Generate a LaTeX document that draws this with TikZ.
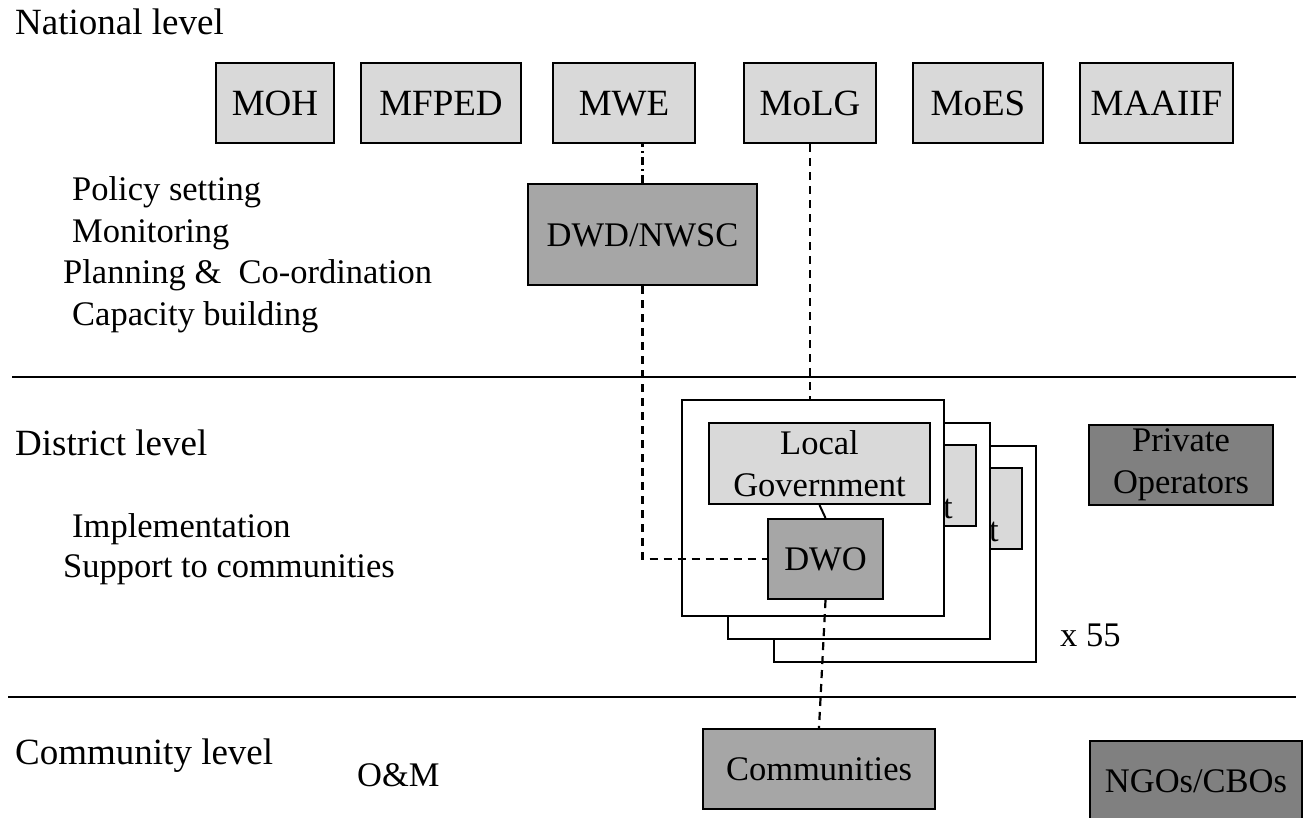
\documentclass[tikz,border=0pt]{standalone}
\usepackage{fontspec}
\setmainfont{Liberation Serif}
\usetikzlibrary{calc}
\definecolor{palegrey}{HTML}{D9D9D9}
\definecolor{midgrey}{HTML}{A6A6A6}
\definecolor{darkgrey}{HTML}{808080}
\newcommand{\bigfont}{\fontsize{37}{42}\selectfont}
\newcommand{\smallfont}{\fontsize{34.5}{42}\selectfont}

\begin{document}
\begin{tikzpicture}[x=1pt, y=-1pt,
  ministry/.style={draw, line width=2.2pt, fill=palegrey, inner sep=0pt, minimum height=80pt, minimum width=#1, text height=24pt, text depth=0pt, font=\bigfont},
  unit/.style={draw, line width=2.2pt, fill=midgrey, inner sep=0pt, minimum height=80pt, minimum width=#1, font=\smallfont, align=center},
  oneline/.style={text height=23pt, text depth=0pt},
  partner/.style={unit=#1, fill=darkgrey},
  council/.style={draw, line width=2.2pt, fill=palegrey, inner sep=0pt, minimum width=221pt, minimum height=81pt, font=\smallfont, align=center},
  frame/.style={draw, line width=2.2pt, fill=white, minimum width=262pt, minimum height=216pt},
  level/.style={anchor=base west, inner sep=0pt, font=\bigfont},
  task/.style={anchor=base west, inner sep=0pt, font=\smallfont},
  link/.style={line width=2.2pt, dash pattern=on 8pt off 6pt},
  sep/.style={line width=2.2pt}]
  \useasboundingbox (0,0) rectangle (1303,817);

  \node[ministry=118pt] (MOH) at (275,103) {MOH};
  \node[ministry=160pt] (MFPED) at (441,103) {MFPED};
  \node[ministry=142pt] (MWE) at (624,103) {MWE};
  \node[ministry=132pt] (MoLG) at (810,103) {MoLG};
  \node[ministry=130pt] (MoES) at (978,103) {MoES};
  \node[ministry=153pt] (MAAIIF) at (1156.5,103) {MAAIIF};

  \node[unit=229pt, oneline, minimum height=101pt] (DWD) at (642.5,234.5) {DWD/NWSC};

  \foreach \k in {2,1} {
    \node[frame] (frame\k) at ($(813,508)+\k*(46,23)$) {};
    \node[council] (LG\k) at ($(819.5,462.5)+\k*(46,23)$) {};
    \node[task, anchor=base east] (tail\k) at ($(907,495)+\k*(46,23)$) {t};
  }
  \node[frame] (frame0) at (813,508) {};
  \node[council] (LG0) at (819.5,463.5) {Local\\Government};
  \node[unit=115pt, oneline] (DWO) at (825.5,559) {DWO};

  \node[partner=184pt] (private) at (1181,465) {Private\\Operators};
  \node[unit=232pt, oneline] (comm) at (819,769) {Communities};
  \node[partner=212pt, oneline] (NGO) at (1196,781) {NGOs/CBOs};

  \draw[line width=2.2pt, dash pattern=on 8pt off 4pt on 2pt off 4pt] (DWD.north) -- (DWD.north |- MWE.south);
  \draw[link] (DWD.south) |- (DWO.west);
  \draw[link] (MoLG.south) -- (MoLG.south |- frame0.north);
  \draw[line width=2pt] (LG0.south) -- (DWO.north);
  \draw[link] (DWO.south) -- (comm.north);

  \draw[sep] (12,377) -- (1296,377);
  \draw[sep] (8,697) -- (1296,697);

  \node[level] (national) at (15,34) {National level};
  \node[task] (policy) at (72,200) {Policy setting};
  \node[task] (monitor) at (72,242) {Monitoring};
  \node[task] (planning) at (63,283) {Planning \& \ Co-ordination};
  \node[task] (capacity) at (72,325) {Capacity building};

  \node[level] (district) at (15,455) {District level};
  \node[task] (implement) at (72,537) {Implementation};
  \node[task] (support) at (63,577) {Support to communities};
  \node[task] (times) at (1060,646) {x 55};

  \node[level] (community) at (15,764) {Community level};
  \node[task] (om) at (357,786) {O\&M};
\end{tikzpicture}
\end{document}
